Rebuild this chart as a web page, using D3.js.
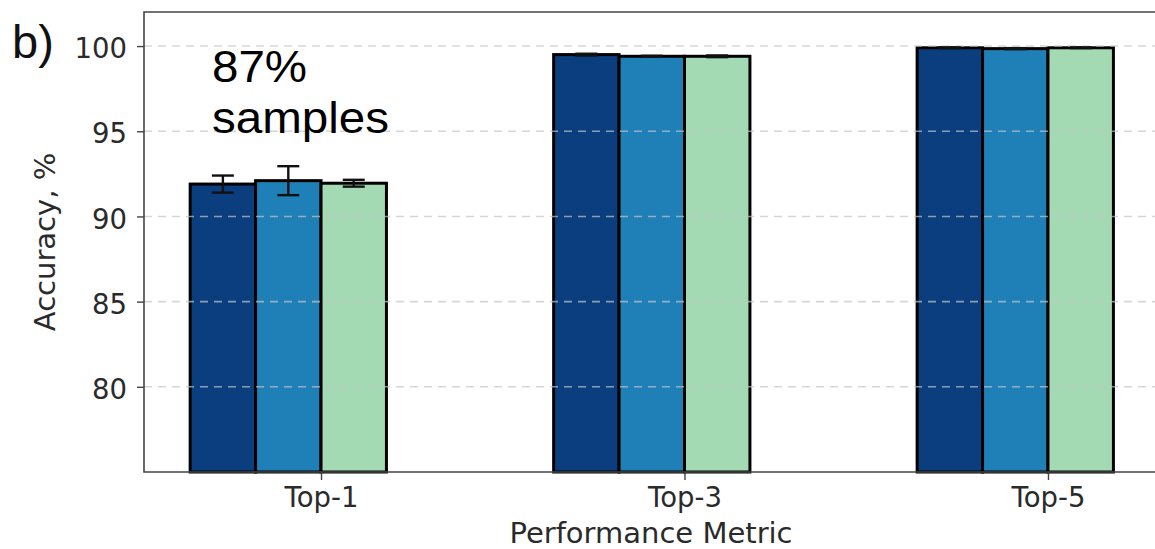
<!DOCTYPE html>
<html>
<head>
<meta charset="utf-8">
<script src="https://cdn.jsdelivr.net/npm/d3@7"></script>
<style>
  html, body { margin: 0; padding: 0; background: #fff; }
  svg { display: block; }
</style>
</head>
<body>
<svg id="chart" width="1155" height="549"></svg>
<script>
// Categories and per-model accuracy (%) with standard deviation
const categories = ["Top-1", "Top-3", "Top-5"];
const modelA = [91.9, 99.5, 99.9];
const modelB = [92.1, 99.4, 99.85];
const modelC = [91.95, 99.4, 99.9];
const errA = [0.5, 0.05, 0.02];
const errB = [0.85, 0.03, 0.03];
const errC = [0.2, 0.05, 0.02];
const yTicks = [80, 85, 90, 95, 100];
const seriesColors = ["#0a3e7e", "#1f80b8", "#a3dab4"];

const series = [
  { values: modelA, err: errA },
  { values: modelB, err: errB },
  { values: modelC, err: errC }
];

const svg = d3.select("#chart");
const plotLeft = 144, plotTop = 12, plotBottom = 472;
const barW = 0.18;

const x = d3.scaleLinear().domain([-0.487, 2.487]).range([plotLeft, 1225]);
const y = d3.scaleLinear().domain([75, 102]).range([plotBottom, plotTop]);

// bars: left edge at category + (i - 2) * width
const bars = svg.append("g");
series.forEach((s, i) => {
  bars.selectAll(null)
    .data(s.values)
    .join("rect")
    .attr("x", (d, j) => x(j + (i - 2) * barW))
    .attr("y", d => y(d))
    .attr("width", x(barW) - x(0))
    .attr("height", d => y(75) - y(d))
    .attr("fill", seriesColors[i])
    .attr("stroke", "#000")
    .attr("stroke-width", 3);
});

// grid lines drawn over the bars
svg.append("g")
  .selectAll("line")
  .data(yTicks)
  .join("line")
  .attr("x1", plotLeft).attr("x2", 1155)
  .attr("y1", d => y(d)).attr("y2", d => y(d))
  .attr("stroke", "#c4c4c4")
  .attr("stroke-opacity", 0.7)
  .attr("stroke-width", 1.6)
  .attr("stroke-dasharray", "8,6");

// error bars
const errG = svg.append("g").attr("stroke", "#111").attr("stroke-width", 2.4);
series.forEach((s, i) => {
  s.values.forEach((v, j) => {
    const cx = x(j + (i - 1.5) * barW);
    const e = s.err[j];
    errG.append("line").attr("x1", cx).attr("x2", cx).attr("y1", y(v + e)).attr("y2", y(v - e));
    errG.append("line").attr("x1", cx - 11).attr("x2", cx + 11).attr("y1", y(v + e)).attr("y2", y(v + e));
    errG.append("line").attr("x1", cx - 11).attr("x2", cx + 11).attr("y1", y(v - e)).attr("y2", y(v - e));
  });
});

// frame
svg.append("path")
  .attr("d", `M1160,${plotTop}H${plotLeft}V${plotBottom}H1160`)
  .attr("fill", "none")
  .attr("stroke", "#444")
  .attr("stroke-width", 1.6);

// y axis
const yAxis = svg.append("g")
  .attr("transform", `translate(${plotLeft},0)`)
  .call(d3.axisLeft(y).tickValues(yTicks).tickSize(7).tickPadding(10).tickFormat(d3.format("d")));
yAxis.select(".domain").remove();
yAxis.selectAll(".tick line").attr("stroke", "#444").attr("stroke-width", 1.4);
yAxis.selectAll(".tick text")
  .attr("font-family", "DejaVu Sans")
  .attr("font-size", 27.5)
  .attr("fill", "#2a2a2a")
  .attr("dy", "0.42em");

// x axis
const xAxis = svg.append("g")
  .attr("transform", `translate(0,${plotBottom})`)
  .call(d3.axisBottom(x).tickValues([0, 1, 2]).tickSize(8).tickPadding(7).tickFormat(i => categories[i]));
xAxis.select(".domain").remove();
xAxis.selectAll(".tick line").attr("stroke", "#444").attr("stroke-width", 1.4);
xAxis.selectAll(".tick text")
  .attr("font-family", "DejaVu Sans")
  .attr("font-size", 27.5)
  .attr("fill", "#2a2a2a");

// axis titles
svg.append("text")
  .attr("x", 651).attr("y", 543)
  .attr("text-anchor", "middle")
  .attr("font-family", "DejaVu Sans")
  .attr("font-size", 29)
  .attr("fill", "#2a2a2a")
  .text("Performance Metric");

svg.append("text")
  .attr("transform", "translate(55,242) rotate(-90)")
  .attr("text-anchor", "middle")
  .attr("font-family", "DejaVu Sans")
  .attr("font-size", 29)
  .attr("fill", "#2a2a2a")
  .text("Accuracy, %");

// panel letter and annotation
svg.append("text")
  .attr("x", 12).attr("y", 58)
  .attr("font-family", "Liberation Sans, Arial, sans-serif")
  .attr("font-size", 47)
  .attr("fill", "#111")
  .text("b)");

const note = svg.append("text")
  .attr("transform", "translate(212,0) scale(1.08,1)")
  .attr("font-family", "Liberation Sans, Arial, sans-serif")
  .attr("font-size", 44)
  .attr("fill", "#000");
note.append("tspan").attr("x", 0).attr("y", 82).text("87%");
note.append("tspan").attr("x", 0).attr("y", 133).text("samples");
</script>
</body>
</html>
